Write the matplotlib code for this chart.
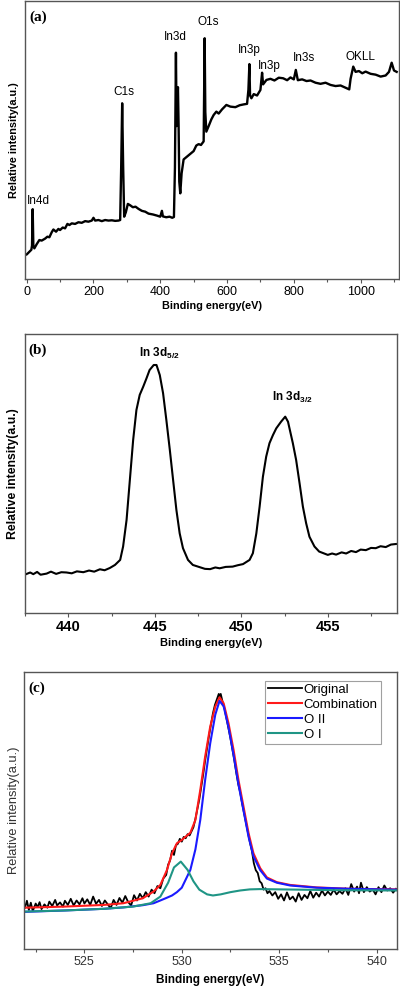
import matplotlib
matplotlib.use("Agg")
import matplotlib.pyplot as plt
from matplotlib.ticker import MultipleLocator

plt.rcParams["font.family"] = ["Liberation Sans", "DejaVu Sans"]
plt.rcParams["mathtext.fontset"] = "custom"
plt.rcParams["mathtext.rm"] = "Liberation Sans"
plt.rcParams["mathtext.bf"] = "Liberation Sans:bold"

# (a) survey spectrum, intensity read as % of axes height
survey_ev = [-7, 0, 8, 14, 16, 18, 20, 23, 30, 38, 45, 55, 62, 68, 75, 80, 88, 95,
             100, 108, 115, 122, 128, 135, 145, 155, 165, 175, 185, 195, 200, 205,
             215, 225, 235, 245, 255, 265, 275, 280, 283, 286, 289, 292, 297, 303,
             310, 318, 326, 335, 345, 355, 365, 378, 390, 400, 405, 408, 418, 428,
             436, 441, 444, 447, 449, 451, 453, 455, 457, 460, 464, 470, 480, 490,
             500, 508, 515, 522, 530, 533, 535, 538, 545, 553, 560, 568, 575, 585,
             598, 610, 625, 638, 650, 660, 664, 667, 669, 673, 680, 690, 700, 705,
             708, 718, 730, 742, 755, 768, 780, 790, 800, 806, 812, 825, 838, 850,
             865, 880, 895, 910, 925, 940, 955, 966, 970, 978, 985, 995, 1005, 1015,
             1030, 1045, 1060, 1075, 1085, 1093, 1100, 1108]
survey_int = [8.6, 8.8, 9.8, 10.5, 12, 25.1, 12, 11, 12.5, 14, 13.8, 14.5, 15.2, 15,
              16.8, 17.8, 17, 18, 17.6, 18.5, 18.2, 19.8, 19.4, 20, 19.8, 20.4, 20.2,
              20.8, 20.6, 21, 22, 21, 21.2, 20.8, 21.2, 21, 21.1, 20.9, 21, 21.2, 40,
              63.2, 40, 22.4, 24, 27, 26.5, 25.8, 26, 25.2, 24.5, 24.2, 23.5, 23.2,
              22.8, 22.4, 24.5, 22.5, 22.2, 22.4, 22, 22.3, 40, 81.4, 55, 62, 69, 55,
              35, 30.8, 38, 43, 44, 45, 46, 48, 48.5, 48.2, 49.5, 86.6, 60, 53, 55,
              57.4, 59, 60.2, 59.5, 61, 62.6, 62, 61.8, 62.5, 62.8, 63, 68, 77.3, 66,
              65, 66.5, 66, 68, 74.2, 70, 71.6, 72, 71.4, 72.4, 72.2, 71.5, 72.5,
              71.8, 75.2, 71.5, 71.8, 71.2, 71.4, 70.6, 70.2, 70.6, 69.8, 69.4, 69.6,
              68.8, 68.2, 72, 76.4, 74.5, 74.8, 74, 74.6, 73.8, 73.5, 72.8, 73.2,
              74.5, 77.8, 75, 74.5]
survey_labels = ["In4d", "C1s", "In3d", "O1s", "In3p", "In3p", "In3s", "OKLL"]
survey_label_ev = [35, 291, 444, 543, 666, 726, 832, 1000]
survey_label_int = [28, 67.3, 87, 92.4, 82.4, 76.6, 79.5, 79.9]

# (b) In 3d region
in3d_ev = [437.56, 437.8, 437.98, 438.2, 438.4, 438.75, 439.0, 439.3, 439.6, 439.9,
           440.2, 440.5, 440.87, 441.2, 441.5, 441.83, 442.1, 442.4, 442.7, 443.0,
           443.17, 443.37, 443.56, 443.75, 443.94, 444.13, 444.33, 444.52, 444.7,
           444.94, 445.1, 445.29, 445.48, 445.67, 445.87, 446.06, 446.25, 446.44,
           446.63, 446.92, 447.2, 447.6, 447.9, 448.2, 448.5, 448.75, 449.1, 449.5,
           449.8, 450.1, 450.48, 450.67, 450.87, 451.06, 451.25, 451.44, 451.63,
           451.83, 452.02, 452.3, 452.54, 452.7, 452.98, 453.17, 453.37, 453.56,
           453.75, 453.94, 454.23, 454.5, 455.0, 455.25, 455.48, 455.8, 456.06,
           456.35, 456.63, 456.9, 457.2, 457.5, 457.77, 458.05, 458.35, 458.65, 458.94]
in3d_int = [14, 14.6, 14.0, 14.8, 13.8, 14.2, 14.9, 14.1, 14.7, 14.6, 14.3, 15.0,
            14.7, 15.3, 14.9, 15.75, 15.4, 16.2, 17.3, 19.1, 23.9, 33.4, 47.7, 62,
            72.8, 78.2, 81.1, 84.1, 87.1, 88.9, 88.9, 85.3, 78.8, 69.2, 58.5, 47.7,
            37, 28.6, 23.3, 19.1, 17.3, 16.5, 15.9, 15.8, 16.4, 16.1, 16.6, 16.7,
            17.2, 17.6, 19.1, 21.5, 28.6, 38.2, 48.9, 56.1, 60.9, 63.8, 66.2, 68.6,
            70.4, 68.6, 60.9, 54.9, 46.5, 38.2, 32.2, 27.4, 23.9, 22.1, 20.9, 21.4,
            21.0, 21.8, 21.4, 22.3, 21.9, 22.8, 22.6, 23.4, 23.3, 24.0, 23.7, 24.6, 24.8]
in3d_labels = [r"In 3d$_{\mathbf{5/2}}$", r"In 3d$_{\mathbf{3/2}}$"]
in3d_label_ev = [444.1, 451.8]
in3d_label_int = [93, 77.3]

# (c) O1s region: measured curve
o1s_ev = [521.95, 522.05, 522.15, 522.25, 522.35, 522.5, 522.6, 522.7, 522.8, 522.95,
          523.1, 523.2, 523.35, 523.5, 523.6, 523.75, 523.9, 524.0, 524.15, 524.3,
          524.45, 524.6, 524.75, 524.9, 525.0, 525.15, 525.3, 525.45, 525.6, 525.75,
          525.9, 526.05, 526.2, 526.35, 526.5, 526.65, 526.8, 526.95, 527.1, 527.25,
          527.4, 527.55, 527.7, 527.85, 528.0, 528.15, 528.3, 528.45, 528.6, 528.75,
          528.9, 529.05, 529.2, 529.3, 529.4, 529.5, 529.6, 529.7, 529.8, 529.9,
          530.0, 530.1, 530.2, 530.3, 530.4, 530.5, 530.6, 530.7, 530.8, 530.9,
          531.0, 531.1, 531.2, 531.3, 531.4, 531.5, 531.6, 531.7, 531.8, 531.9,
          531.95, 532.0, 532.1, 532.2, 532.3, 532.4, 532.5, 532.6, 532.7, 532.8,
          532.9, 533.0, 533.1, 533.2, 533.3, 533.4, 533.5, 533.6, 533.7, 533.8,
          533.9, 534.0, 534.1, 534.2, 534.3, 534.4, 534.5, 534.65, 534.8, 534.95,
          535.1, 535.25, 535.4, 535.55, 535.7, 535.85, 536.0, 536.15, 536.3, 536.45,
          536.6, 536.75, 536.9, 537.05, 537.2, 537.35, 537.5, 537.65, 537.8, 537.95,
          538.1, 538.25, 538.4, 538.55, 538.7, 538.85, 539.0, 539.1, 539.2, 539.35,
          539.5, 539.65, 539.8, 539.95, 540.1, 540.25, 540.4, 540.55, 540.7, 540.85,
          541.0]
o1s_int = [15.0, 17.5, 14.2, 16.8, 13.8, 16.5, 15.2, 17.0, 14.5, 16.2, 15.0, 17.2,
           15.6, 17.8, 15.8, 16.9, 15.4, 17.5, 16.0, 18.2, 15.8, 17.6, 16.2, 18.4,
           16.5, 18.0, 16.0, 19.0, 16.4, 17.8, 15.6, 17.6, 16.2, 14.8, 17.8, 16.0,
           18.5, 16.8, 19.2, 17.0, 15.8, 19.5, 17.6, 20.0, 18.4, 20.6, 19.0, 21.5,
           20.2, 22.8, 22.0, 25.5, 26.8, 30.5, 32.0, 35.5, 34.0, 37.5, 38.0, 39.8,
           38.8, 40.5, 40.0, 41.5, 41.0, 42.5, 44.0, 47.0, 50.5, 54.0, 58.5, 63.0,
           68.0, 72.5, 77.0, 81.0, 85.0, 88.0, 90.0, 92.0, 90.5, 92.0, 89.0, 86.5,
           83.0, 79.5, 76.0, 72.0, 68.0, 63.5, 59.5, 56.5, 52.5, 49.0, 45.5, 42.0,
           38.5, 35.5, 31.0, 28.5, 27.5, 24.5, 23.8, 21.5, 22.0, 20.2, 21.0, 19.4,
           20.6, 18.2, 19.8, 17.6, 20.5, 18.0, 19.0, 17.2, 20.2, 17.8, 19.6, 18.4,
           21.0, 18.6, 20.4, 19.0, 21.2, 19.4, 20.8, 19.6, 21.5, 19.8, 21.0, 20.0,
           22.0, 19.6, 23.5, 20.8, 22.6, 20.2, 24.0, 20.6, 22.4, 20.8, 21.6, 19.8,
           22.4, 20.6, 23.0, 21.2, 22.0, 20.4, 21.8]

# (c) fitted curves
fit_ev = [521.9, 524.0, 526.0, 527.0, 528.0, 528.55, 528.9, 529.24, 529.5, 529.75,
          530.0, 530.44, 530.7, 530.95, 531.2, 531.46, 531.72, 531.94, 532.15, 532.4,
          532.66, 532.91, 533.17, 533.43, 533.68, 534.03, 534.37, 534.88, 535.56,
          536.93, 538.64, 541.03]
combination = [15.0, 15.4, 16.0, 16.6, 18.4, 20.8, 23.2, 28.6, 34.6, 38.2, 39.4, 42.0,
               46.6, 57.4, 69.4, 80.2, 87.4, 90.8, 88.6, 81.4, 71.8, 61.0, 51.4, 41.8,
               34.6, 29.2, 25.9, 24.2, 23.2, 22.3, 21.8, 21.6]
o_ii = [13.5, 14.0, 14.6, 15.1, 15.9, 16.6, 17.6, 18.6, 19.4, 20.6, 22.2, 28.6, 36.0,
        46.6, 61.0, 74.2, 84.5, 89.5, 87.5, 80.0, 70.0, 59.5, 50.0, 40.5, 33.5, 28.5,
        25.5, 24.0, 23.0, 22.2, 21.8, 21.5]
oi_ev = [521.9, 524.0, 526.0, 527.5, 528.4, 528.9, 529.3, 529.6, 529.95, 530.3, 530.6,
         530.9, 531.3, 531.6, 532.0, 532.5, 533.0, 533.5, 534.0, 535.0, 536.0, 538.0,
         541.0]
o_i = [13.6, 14.0, 14.6, 15.4, 16.6, 19.0, 24.0, 29.5, 31.6, 28.6, 24.5, 21.5, 19.8,
       19.4, 19.8, 20.6, 21.2, 21.6, 21.7, 21.6, 21.5, 21.3, 21.2]


def style_axes(ax, ymin=0, ymax=100):
    ax.set_ylim(ymin, ymax)
    ax.set_yticks([])
    for sp in ax.spines.values():
        sp.set_color("#555555")
        sp.set_linewidth(1.0)
    ax.tick_params(axis="x", which="major", direction="out", length=3, width=0.8,
                   color="#555555", pad=2)
    ax.tick_params(axis="x", which="minor", direction="out", length=2, width=0.8,
                   color="#555555")


def main():
    fig = plt.figure(figsize=(4.0, 9.92), dpi=100)

    # ---- (a)
    ax = fig.add_axes([0.0625, 0.7188, 0.935, 0.2802])
    ax.plot(survey_ev, survey_int, color="black", lw=1.7)
    ax.set_xlim(-5, 1115)
    ax.xaxis.set_major_locator(MultipleLocator(200))
    ax.xaxis.set_minor_locator(MultipleLocator(100))
    style_axes(ax)
    ax.tick_params(axis="x", labelsize=9)
    for lab, e, v in zip(survey_labels, survey_label_ev, survey_label_int):
        ax.text(e, v, lab, fontsize=8.5, ha="center", va="center")
    ax.text(0.012, 0.965, "(a)", transform=ax.transAxes, fontsize=11,
            fontweight="bold", family="Liberation Serif", va="top")
    ax.set_xlabel("Binding energy(eV)", fontsize=7.8, fontweight="bold", labelpad=2)
    ax.set_ylabel("Relative intensity(a.u.)", fontsize=7.8, fontweight="bold",
                  labelpad=4)

    # ---- (b)
    ax = fig.add_axes([0.0625, 0.3818, 0.93, 0.2815])
    ax.plot(in3d_ev, in3d_int, color="black", lw=1.5)
    ax.set_xlim(437.5, 459)
    ax.xaxis.set_major_locator(MultipleLocator(5))
    ax.xaxis.set_minor_locator(MultipleLocator(2.5))
    style_axes(ax)
    ax.tick_params(axis="x", labelsize=10.5)
    for lab in ax.get_xticklabels():
        lab.set_fontweight("bold")
    for lab, e, v in zip(in3d_labels, in3d_label_ev, in3d_label_int):
        ax.text(e, v, lab, fontsize=8.5, fontweight="bold", ha="left", va="center")
    ax.text(0.008, 0.965, "(b)", transform=ax.transAxes, fontsize=11,
            fontweight="bold", family="Liberation Serif", va="top")
    ax.set_xlabel("Binding energy(eV)", fontsize=8, fontweight="bold", labelpad=3)
    ax.set_ylabel("Relative intensity(a.u.)", fontsize=8.8, fontweight="bold",
                  labelpad=4)

    # ---- (c)
    ax = fig.add_axes([0.06, 0.043, 0.9325, 0.2799])
    ax.plot(o1s_ev, o1s_int, color="black", lw=1.3, label="Original")
    ax.plot(fit_ev, combination, color="#ff1a1a", lw=1.5, label="Combination")
    ax.plot(fit_ev, o_ii, color="#1a1aff", lw=1.5, label="O II")
    ax.plot(oi_ev, o_i, color="#1f9585", lw=1.5, label="O I")
    ax.set_xlim(521.9, 541.05)
    ax.xaxis.set_major_locator(MultipleLocator(5))
    ax.xaxis.set_minor_locator(MultipleLocator(2.5))
    style_axes(ax)
    ax.tick_params(axis="x", labelsize=9, labelcolor="#333333")
    leg = ax.legend(loc="upper right", bbox_to_anchor=(0.957, 0.968), fontsize=9.5,
                    frameon=True, fancybox=False, borderaxespad=0, handlelength=2.6,
                    handletextpad=0.1, labelspacing=0.2, borderpad=0.25)
    leg.get_frame().set_edgecolor("#888888")
    leg.get_frame().set_linewidth(0.8)
    ax.text(0.012, 0.965, "(c)", transform=ax.transAxes, fontsize=11,
            fontweight="bold", family="Liberation Serif", va="top")
    ax.set_xlabel("Binding energy(eV)", fontsize=8.5, fontweight="bold", labelpad=4)
    ax.set_ylabel("Relative intensity(a.u.)", fontsize=9.3, color="#333333",
                  labelpad=3)

    fig.savefig("out.png", dpi=100)


if __name__ == "__main__":
    main()
